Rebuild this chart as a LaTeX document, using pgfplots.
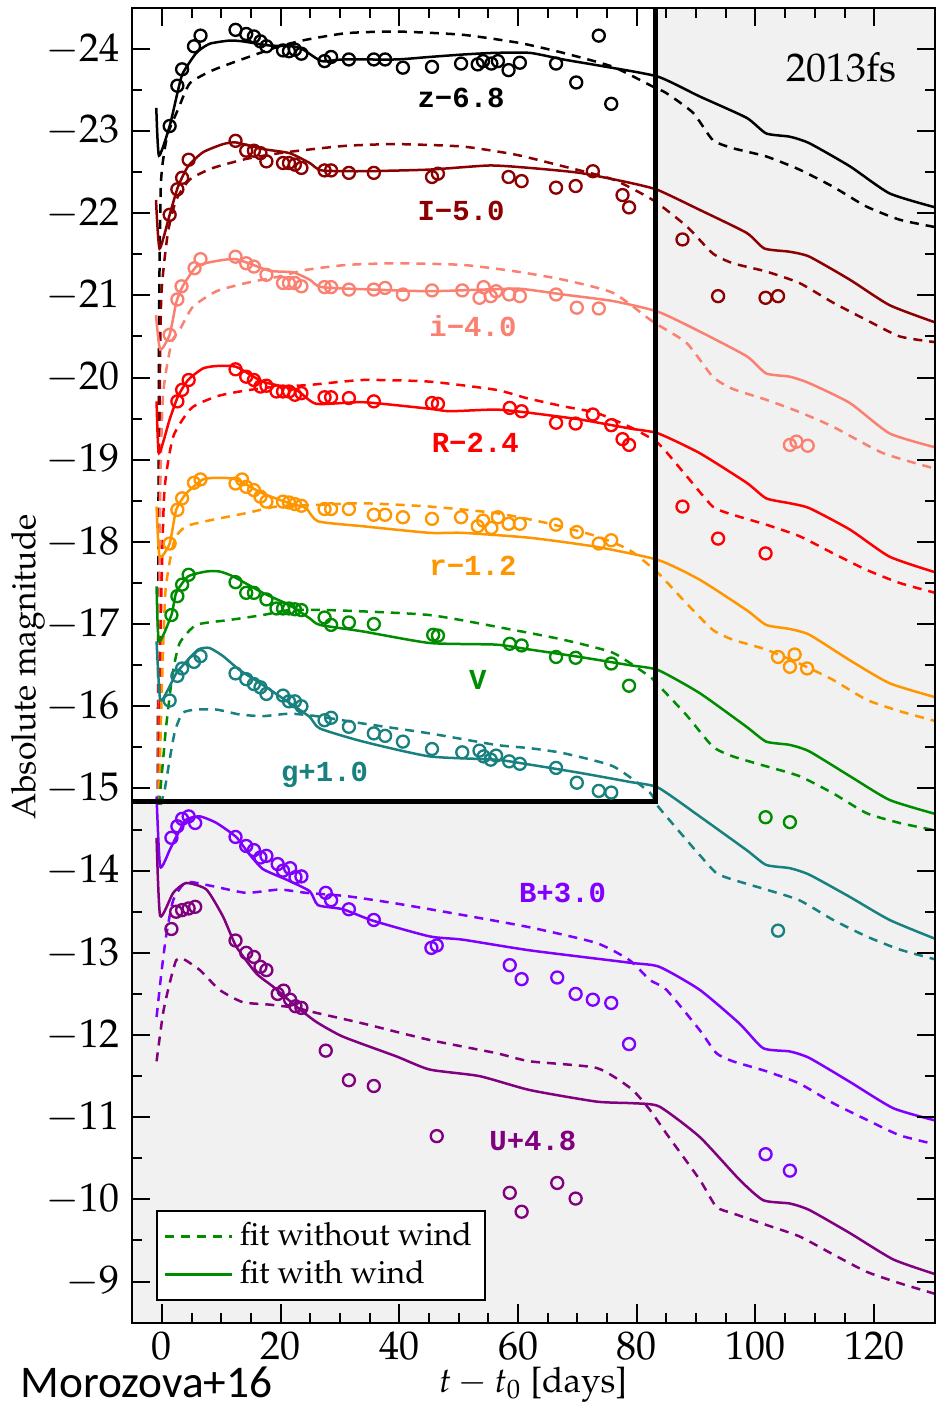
\documentclass[border=0pt]{standalone}
\usepackage[T1]{fontenc}
\usepackage{mathpazo}
\usepackage{fontspec}
\usepackage{pgfplots}
\pgfplotsset{compat=1.18}
\newfontfamily\monob{Liberation Mono}
\newfontfamily\carlito{Carlito}
\newcommand\pal{\fontencoding{T1}\fontfamily{ppl}\selectfont}
\definecolor{cz}{RGB}{0,0,0}
\definecolor{cI}{RGB}{139,0,0}
\definecolor{ci}{RGB}{250,128,114}
\definecolor{cR}{RGB}{255,0,0}
\definecolor{cr}{RGB}{255,150,0}
\definecolor{cV}{RGB}{0,140,0}
\definecolor{cg}{RGB}{25,128,128}
\definecolor{cB}{RGB}{127,0,255}
\definecolor{cU}{RGB}{128,0,128}
\definecolor{bggray}{RGB}{241,241,241}
\pgfplotsset{
 fitS/.style={#1, line width=0.75pt, smooth, tension=0.35, forget plot},
 fitD/.style={#1, line width=0.75pt, smooth, tension=0.35, dash pattern=on 2.7pt off 2.1pt, forget plot},
 obs/.style={#1, only marks, mark=o, mark size=1.8pt, mark options={solid, line width=0.7pt}, forget plot},
}
\begin{document}
\begin{tikzpicture}
\begin{axis}[
  scale only axis, width=241.1pt, height=394.5pt,
  xmin=-5.1, xmax=130.3, ymin=-24.5, ymax=-8.5, y dir=reverse,
  axis on top,
  axis background/.style={fill=bggray},
  xtick={0,20,...,120}, minor x tick num=3,
  ytick={-24,-23,...,-9}, minor y tick num=1,
  xtick pos=both, ytick pos=both,
  tick align=inside,
  major tick length=5.5pt, minor tick length=3pt,
  every tick/.style={black, line width=0.6pt},
  axis line style={line width=0.6pt},
  ticklabel style={font=\fontsize{12}{14}\selectfont},
  xticklabel style={inner sep=0pt, yshift=-2.5pt},
  legend style={at={(axis cs:-0.94,-8.76)}, anchor=south west, draw=black, fill=white, line width=0.6pt,
     font=\fontsize{9.6}{11.5}\pal, inner xsep=2pt, inner ysep=1.5pt, row sep=-1pt},
  legend cell align=left,
  legend image code/.code={\draw[#1] (0pt,0pt) -- (20pt,0pt);},
]
\fill[white] (axis cs:-6,-25) rectangle (axis cs:83.2,-14.84);

% ---------------- z ----------------
\addplot[fitD=cz] coordinates {(-0.7,-14.8)(-0.5,-20.5)(-0.2,-22.3)(0.3,-22.7)(1.0,-22.97)(2.7,-23.26)(4.7,-23.58)(8.6,-23.74)(14.2,-23.89)(19.8,-24.03)(24.3,-24.11)(31.1,-24.19)(39.5,-24.21)(50.7,-24.17)(60.3,-24.07)(67.6,-23.95)(76,-23.78)(82.7,-23.54)(85,-23.46)(89.5,-23.22)(92.8,-22.89)(96.2,-22.79)(101.8,-22.69)(107.4,-22.53)(113.1,-22.32)(118.7,-22.08)(124.3,-21.92)(130.3,-21.83)};
\addplot[fitS=cz] coordinates {(-0.95,-23.28)(-0.5,-22.7)(1.3,-23.06)(2.6,-23.46)(3.5,-23.70)(5.8,-23.95)(8.0,-24.06)(11.4,-24.10)(13.6,-24.09)(18.1,-24.04)(22.1,-24.03)(23.8,-23.99)(26.9,-23.85)(30.5,-23.87)(39.5,-23.87)(45,-23.90)(50.7,-23.93)(56,-23.95)(62,-23.95)(67.6,-23.87)(74.9,-23.78)(83.6,-23.66)(90.6,-23.42)(98.5,-23.16)(101.8,-22.97)(105.8,-22.93)(109.1,-22.85)(115.9,-22.57)(122.6,-22.24)(130.3,-22.07)};
\addplot[obs=cz] coordinates {(1.3,-23.06)(2.6,-23.55)(3.4,-23.75)(5.4,-24.03)(6.5,-24.16)(12.4,-24.23)(14.2,-24.18)(15.5,-24.15)(16.6,-24.09)(17.6,-24.03)(20.4,-23.98)(21.4,-23.97)(22.4,-23.99)(23.5,-23.94)(27.4,-23.85)(28.5,-23.9)(31.5,-23.87)(35.7,-23.87)(37.6,-23.87)(40.6,-23.77)(45.5,-23.78)(50.4,-23.82)(53.2,-23.81)(54.1,-23.85)(55.5,-23.82)(56.6,-23.85)(58.4,-23.74)(60.3,-23.83)(66.4,-23.82)(69.8,-23.59)(73.6,-24.16)(75.7,-23.33)};

% ---------------- I ----------------
\addplot[fitD=cI] coordinates {(-0.65,-14.8)(-0.4,-19.5)(-0.1,-21.0)(1.0,-21.76)(2.4,-22.16)(4.7,-22.41)(8.6,-22.55)(14.2,-22.66)(19.8,-22.73)(24.3,-22.77)(31.1,-22.82)(39.5,-22.84)(50.7,-22.81)(59.7,-22.71)(67.6,-22.57)(76,-22.41)(82.7,-22.16)(88.4,-21.84)(92.8,-21.51)(96.2,-21.39)(101.8,-21.29)(107.4,-21.15)(113.1,-20.91)(118.7,-20.70)(124.3,-20.50)(130.3,-20.43)};
\addplot[fitS=cI] coordinates {(-1,-22.16)(-0.4,-21.57)(1.3,-21.98)(2.7,-22.32)(4.4,-22.57)(6.9,-22.74)(10.3,-22.84)(12.5,-22.86)(17,-22.78)(21.5,-22.73)(24.9,-22.61)(26.9,-22.52)(33.9,-22.51)(45.1,-22.53)(55.2,-22.58)(62,-22.55)(70.4,-22.49)(78.8,-22.37)(83.6,-22.28)(90.6,-22.04)(98.5,-21.76)(101.5,-21.57)(105.8,-21.53)(109.1,-21.47)(115.9,-21.19)(122.6,-20.88)(130.3,-20.67)};
\addplot[obs=cI] coordinates {(1.3,-21.98)(2.6,-22.29)(3.4,-22.43)(4.5,-22.65)(12.4,-22.88)(14.2,-22.76)(15.5,-22.76)(16.6,-22.73)(17.6,-22.63)(20.4,-22.61)(21.4,-22.61)(22.4,-22.59)(23.5,-22.55)(27.4,-22.52)(28.5,-22.52)(31.5,-22.49)(35.7,-22.49)(45.5,-22.44)(46.5,-22.48)(58.4,-22.44)(60.6,-22.39)(66.4,-22.31)(69.7,-22.33)(72.6,-22.51)(77.6,-22.22)(78.7,-22.07)(87.7,-21.68)(93.7,-20.99)(101.7,-20.97)(103.8,-20.99)};

% ---------------- i ----------------
\addplot[fitD=ci] coordinates {(-0.6,-14.8)(-0.3,-18.5)(0.2,-19.8)(1.6,-20.42)(3.0,-20.58)(5.2,-20.86)(9.2,-21.05)(14.2,-21.15)(19.8,-21.23)(24.3,-21.31)(31.1,-21.37)(39.5,-21.39)(50.7,-21.37)(59.7,-21.29)(67.6,-21.19)(76,-21.03)(82.7,-20.68)(88.4,-20.42)(92.8,-20.01)(96.2,-19.86)(101.8,-19.73)(107.4,-19.58)(113.1,-19.40)(121.5,-19.08)(130.3,-18.89)};
\addplot[fitS=ci] coordinates {(-1,-20.76)(-0.3,-20.34)(1.3,-20.52)(2.4,-20.91)(3.5,-21.11)(5.8,-21.35)(8.6,-21.41)(12.5,-21.44)(18.1,-21.30)(22.1,-21.28)(24.9,-21.19)(26.9,-21.10)(35.6,-21.07)(45.1,-21.05)(54.1,-21.07)(60.3,-21.08)(67.6,-21.01)(76,-20.93)(83.6,-20.80)(90.6,-20.56)(98.5,-20.26)(101.8,-20.05)(105.8,-20.01)(109.1,-19.93)(115.9,-19.69)(122.6,-19.32)(130.3,-19.15)};
\addplot[obs=ci] coordinates {(1.3,-20.52)(2.6,-20.95)(3.3,-21.11)(5.5,-21.33)(6.5,-21.44)(12.4,-21.47)(14.2,-21.39)(15.5,-21.35)(17.6,-21.25)(20.4,-21.15)(21.4,-21.15)(22.4,-21.15)(23.5,-21.11)(27.4,-21.10)(28.5,-21.10)(31.5,-21.07)(35.7,-21.07)(37.6,-21.09)(40.6,-21.01)(45.5,-21.06)(50.6,-21.06)(53.5,-20.97)(54.2,-21.10)(55.4,-20.99)(56.3,-21.05)(58.5,-21.01)(60.3,-20.99)(66.4,-21.01)(69.9,-20.85)(73.6,-20.84)(105.8,-19.18)(106.9,-19.22)(108.8,-19.17)};

% ---------------- R ----------------
\addplot[fitD=cR] coordinates {(-0.55,-14.8)(-0.2,-17.0)(0.4,-18.6)(1.9,-19.28)(5,-19.63)(9.2,-19.77)(13.1,-19.83)(18.1,-19.88)(24.9,-19.91)(33.9,-19.97)(45.1,-19.95)(56.3,-19.85)(61.4,-19.75)(67.6,-19.65)(73.2,-19.57)(78.8,-19.40)(83.6,-19.20)(88.4,-18.80)(92.8,-18.43)(96.2,-18.33)(101.8,-18.21)(107.4,-18.07)(113.1,-17.86)(118.7,-17.66)(124.3,-17.50)(130.3,-17.38)};
\addplot[fitS=cR] coordinates {(-0.9,-19.71)(-0.5,-19.08)(1.3,-19.49)(2.7,-19.77)(4.4,-19.97)(6.9,-20.11)(9.2,-20.14)(12.5,-20.13)(17,-19.95)(22.6,-19.85)(26,-19.68)(33.9,-19.70)(45.1,-19.62)(48.5,-19.59)(56.3,-19.61)(62,-19.57)(70.4,-19.49)(78.8,-19.38)(83.6,-19.32)(90.6,-19.08)(98.5,-18.72)(101.8,-18.53)(105.8,-18.47)(109.1,-18.41)(115.9,-18.15)(122.6,-17.82)(130.3,-17.63)};
\addplot[obs=cR] coordinates {(2.6,-19.71)(3.4,-19.85)(4.5,-19.97)(12.4,-20.10)(14.2,-20.01)(15.5,-19.97)(16.6,-19.89)(17.6,-19.90)(19.3,-19.83)(20.4,-19.83)(21.4,-19.83)(22.4,-19.79)(23.5,-19.81)(27.4,-19.76)(28.5,-19.76)(31.5,-19.75)(35.7,-19.71)(45.5,-19.69)(46.5,-19.68)(58.6,-19.63)(60.6,-19.59)(66.4,-19.45)(69.7,-19.44)(72.6,-19.55)(75.7,-19.42)(77.6,-19.25)(78.7,-19.18)(87.7,-18.43)(93.7,-18.04)(101.7,-17.86)};

% ---------------- r ----------------
\addplot[fitD=cr] coordinates {(-0.5,-14.8)(-0.1,-16.0)(0.6,-17.4)(2.1,-18.02)(4.1,-18.19)(8.6,-18.27)(14.2,-18.35)(19.3,-18.43)(26,-18.45)(33.9,-18.47)(45.1,-18.43)(56.3,-18.35)(64.8,-18.23)(73.2,-18.07)(78.8,-17.90)(83.6,-17.62)(88.4,-17.25)(92.8,-16.93)(96.2,-16.81)(101.8,-16.69)(107.4,-16.52)(113.1,-16.32)(118.7,-16.08)(124.3,-15.94)(130.3,-15.82)};
\addplot[fitS=cr] coordinates {(-0.9,-18.43)(-0.4,-17.82)(1.3,-17.98)(2.4,-18.39)(4.1,-18.59)(6.9,-18.76)(9.7,-18.78)(12.5,-18.76)(17,-18.59)(21.5,-18.47)(24.3,-18.41)(26.3,-18.25)(33.9,-18.19)(45.1,-18.11)(50.7,-18.11)(62,-18.05)(73.2,-17.94)(83.6,-17.78)(90.6,-17.54)(98.5,-17.17)(101.8,-16.99)(105.8,-16.94)(109.1,-16.87)(115.9,-16.56)(122.6,-16.28)(130.3,-16.11)};
\addplot[obs=cr] coordinates {(1.3,-17.98)(2.6,-18.39)(3.4,-18.53)(5.4,-18.72)(6.5,-18.76)(12.4,-18.71)(13.5,-18.76)(14.2,-18.67)(15.5,-18.63)(16.6,-18.55)(17.6,-18.49)(20.4,-18.49)(21.4,-18.48)(22.4,-18.46)(23.5,-18.44)(27.4,-18.40)(28.5,-18.40)(31.5,-18.40)(35.7,-18.33)(37.6,-18.33)(40.6,-18.30)(45.5,-18.28)(50.4,-18.30)(53.2,-18.19)(54.1,-18.26)(55.5,-18.17)(56.6,-18.30)(58.4,-18.22)(60.3,-18.22)(66.4,-18.21)(69.9,-18.12)(73.6,-17.98)(75.7,-18.02)(103.8,-16.60)(106.6,-16.63)(105.8,-16.48)(108.7,-16.46)};

% ---------------- V ----------------
\addplot[fitD=cV] coordinates {(-0.5,-14.8)(0.2,-15.35)(0.7,-15.75)(1.8,-16.4)(3.0,-16.77)(5.8,-16.99)(11.4,-17.05)(17,-17.11)(21.5,-17.17)(28.3,-17.17)(45.1,-17.11)(59.1,-16.93)(67.6,-16.81)(76,-16.65)(82.2,-16.36)(83.6,-16.26)(88.4,-15.89)(92.8,-15.51)(96.2,-15.39)(101.8,-15.27)(107.4,-15.15)(113.1,-14.94)(118.7,-14.70)(124.3,-14.58)(130.3,-14.49)};
\addplot[fitS=cV] coordinates {(-0.9,-17.46)(-0.5,-16.79)(1.6,-17.11)(2.4,-17.38)(4.4,-17.58)(7.5,-17.64)(9.7,-17.64)(12,-17.58)(17,-17.38)(21.5,-17.23)(24.9,-17.07)(26.6,-16.99)(33.9,-16.91)(45.1,-16.77)(56.3,-16.75)(62,-16.69)(70.4,-16.60)(78.8,-16.50)(83.6,-16.44)(90.6,-16.16)(98.5,-15.75)(101.8,-15.57)(105.8,-15.53)(109.1,-15.45)(115.9,-15.15)(122.6,-14.86)(130.3,-14.69)};
\addplot[obs=cV] coordinates {(1.6,-17.11)(2.6,-17.34)(3.4,-17.48)(4.5,-17.60)(12.4,-17.51)(14.2,-17.38)(15.5,-17.38)(17.6,-17.30)(19.3,-17.19)(20.4,-17.19)(21.4,-17.19)(22.4,-17.18)(23.5,-17.17)(27.4,-17.08)(28.5,-16.99)(31.5,-17.02)(35.7,-17.00)(45.7,-16.87)(46.5,-16.86)(58.6,-16.76)(60.6,-16.74)(66.4,-16.60)(69.7,-16.59)(75.7,-16.52)(78.7,-16.25)(101.7,-14.65)(105.8,-14.59)};

% ---------------- g ----------------
\addplot[fitD=cg] coordinates {(-0.2,-14.8)(0.5,-15.0)(1.3,-15.35)(2.2,-15.7)(3.5,-15.92)(5.8,-15.96)(9.2,-15.96)(13.1,-15.90)(17,-15.88)(21.5,-15.91)(26,-15.88)(33.9,-15.79)(45.1,-15.67)(56.3,-15.53)(62,-15.49)(67.6,-15.43)(76,-15.27)(82.2,-14.95)(83.6,-14.78)(88.9,-14.33)(90.6,-14.19)(93.4,-13.97)(96.2,-13.89)(101.8,-13.77)(107.4,-13.64)(113.1,-13.40)(118.7,-13.20)(124.3,-13.04)(130.3,-12.92)};
\addplot[fitS=cg] coordinates {(-0.9,-16.79)(-0.3,-16.08)(1.0,-16.20)(2.4,-16.40)(3.8,-16.52)(6.1,-16.69)(8,-16.71)(10.3,-16.61)(13.1,-16.44)(17,-16.26)(21.5,-16.04)(24.9,-15.87)(26.6,-15.73)(33.9,-15.57)(45.1,-15.39)(56.3,-15.35)(62,-15.29)(70.4,-15.19)(78.8,-15.08)(83.6,-15.01)(90.6,-14.66)(98.5,-14.25)(101.8,-14.07)(105.8,-14.03)(109.1,-13.95)(115.9,-13.68)(122.6,-13.40)(130.3,-13.17)};
\addplot[obs=cg] coordinates {(1.3,-16.07)(2.6,-16.37)(3.4,-16.46)(5.4,-16.54)(6.5,-16.61)(12.4,-16.40)(14.2,-16.33)(15.5,-16.27)(16.6,-16.23)(17.6,-16.15)(20.4,-16.13)(21.4,-16.06)(22.4,-16.06)(23.5,-16.00)(27.4,-15.83)(28.5,-15.86)(31.5,-15.75)(35.7,-15.67)(37.6,-15.64)(40.6,-15.57)(45.5,-15.48)(50.6,-15.44)(53.5,-15.46)(54.2,-15.39)(55.4,-15.35)(56.3,-15.40)(58.5,-15.33)(60.3,-15.30)(66.4,-15.25)(69.9,-15.07)(73.6,-14.97)(75.7,-14.95)(103.8,-13.27)};

% ---------------- B ----------------
\addplot[fitD=cB] coordinates {(-0.9,-12.22)(-0.1,-12.75)(0.7,-13.20)(1.9,-13.64)(4.1,-13.86)(8.6,-13.81)(14.2,-13.73)(19.8,-13.77)(24.3,-13.73)(31.1,-13.69)(39.5,-13.60)(50.7,-13.46)(62,-13.31)(73.2,-13.12)(78.8,-12.91)(82.2,-12.67)(85,-12.55)(90.6,-12.06)(93.4,-11.78)(96.2,-11.68)(101.8,-11.56)(107.4,-11.41)(113.1,-11.17)(118.7,-10.97)(124.3,-10.78)(130.3,-10.67)};
\addplot[fitS=cB] coordinates {(-0.9,-14.9)(-0.3,-14.05)(1.3,-14.25)(2.4,-14.41)(4.1,-14.62)(6.4,-14.66)(9.2,-14.58)(12.5,-14.41)(14.5,-14.22)(17,-14.02)(21,-13.89)(24.9,-13.75)(26.3,-13.58)(30.5,-13.53)(35.6,-13.39)(45.1,-13.20)(50.7,-13.16)(62,-13.03)(78.8,-12.88)(83.8,-12.83)(90.6,-12.55)(97.3,-12.14)(101.3,-11.84)(105.8,-11.80)(109.1,-11.72)(115.9,-11.43)(123.2,-11.11)(130.3,-10.96)};
\addplot[obs=cB] coordinates {(1.6,-14.40)(2.6,-14.54)(3.4,-14.63)(4.5,-14.66)(5.6,-14.58)(12.4,-14.41)(14.2,-14.30)(15.5,-14.25)(16.6,-14.16)(17.6,-14.18)(19.5,-14.08)(20.4,-14.00)(21.6,-14.03)(22.5,-13.92)(23.5,-13.93)(27.6,-13.73)(28.5,-13.64)(31.5,-13.53)(35.7,-13.40)(45.4,-13.06)(46.3,-13.09)(58.6,-12.85)(60.6,-12.68)(66.6,-12.70)(69.7,-12.50)(72.6,-12.43)(75.7,-12.39)(78.7,-11.89)(101.7,-10.55)(105.8,-10.35)};

% ---------------- U ----------------
\addplot[fitD=cU] coordinates {(-0.9,-11.68)(0.2,-12.27)(1.3,-12.63)(2.4,-12.91)(3.5,-12.93)(6.4,-12.79)(9.7,-12.55)(13.6,-12.40)(18.1,-12.37)(22.6,-12.33)(26,-12.27)(33.9,-12.14)(45.1,-11.94)(56.3,-11.78)(62,-11.68)(73.2,-11.60)(79,-11.35)(82.2,-11.09)(85,-10.80)(90.6,-10.24)(93.4,-9.91)(96.2,-9.83)(101.8,-9.69)(107.4,-9.55)(113.1,-9.33)(118.7,-9.12)(124.3,-8.98)(130.3,-8.85)};
\addplot[fitS=cU] coordinates {(-0.9,-14.4)(-0.3,-13.45)(1.9,-13.73)(4.1,-13.85)(7.5,-13.77)(10.3,-13.44)(12.5,-13.08)(15.9,-12.75)(18.7,-12.59)(22.6,-12.35)(26,-12.16)(30.5,-11.98)(39.5,-11.74)(45.1,-11.58)(53.5,-11.50)(62,-11.33)(73.2,-11.19)(79.4,-11.17)(83.8,-11.13)(90.6,-10.76)(97.3,-10.24)(101.3,-9.99)(105.8,-9.95)(109.1,-9.87)(115.9,-9.59)(123.2,-9.27)(130.3,-9.09)};
\addplot[obs=cU] coordinates {(1.6,-13.29)(2.4,-13.50)(3.4,-13.52)(4.5,-13.54)(5.6,-13.56)(12.4,-13.15)(14.2,-13.00)(15.5,-12.95)(16.6,-12.83)(17.6,-12.79)(19.5,-12.50)(20.5,-12.54)(21.6,-12.43)(22.5,-12.35)(23.5,-12.33)(27.6,-11.81)(31.5,-11.45)(35.7,-11.38)(46.3,-10.77)(58.6,-10.08)(60.6,-9.85)(66.6,-10.20)(69.7,-10.01)};

% thick box border
\draw[black, line width=1.5pt] (axis cs:83.2,-25) -- (axis cs:83.2,-14.84) -- (axis cs:-6,-14.84);

% band labels
\begin{scope}[every node/.style={anchor=base, inner sep=0pt, font=\monob\bfseries\fontsize{8.7}{10}\selectfont}]
\node[text=black] at (axis cs:50.4,-23.29) {z−6.8};
\node[text=cI] at (axis cs:50.4,-21.91) {I−5.0};
\node[text=ci] at (axis cs:52.4,-20.50) {i−4.0};
\node[text=cR] at (axis cs:52.8,-19.09) {R−2.4};
\node[text=cr] at (axis cs:52.4,-17.59) {r−1.2};
\node[text=cV] at (axis cs:53.2,-16.20) {V};
\node[text=cg] at (axis cs:27.4,-15.08) {g+1.0};
\node[text=cB] at (axis cs:67.5,-13.61) {B+3.0};
\node[text=cU] at (axis cs:62.5,-10.60) {U+4.8};
\end{scope}
\node[anchor=base, inner sep=0pt, font=\fontsize{12}{14}\pal] at (axis cs:114.5,-23.60) {2013fs};

\addlegendimage{cV, line width=0.75pt, dash pattern=on 2.7pt off 2.1pt}
\addlegendentry{fit without wind}
\addlegendimage{cV, line width=0.75pt}
\addlegendentry{fit with wind}
\end{axis}
\node[rotate=90, inner sep=0pt, font=\fontsize{10.1}{12}\pal] at (-31.1pt,196.7pt) {Absolute magnitude};
\node[anchor=base, inner sep=0pt, font=\fontsize{10.5}{12}\pal] at (120.4pt,-20.9pt) {$t - t_0$ [days]};
\node[anchor=base west, inner sep=0pt, font=\fontsize{13.6}{16}\carlito] at (-33.5pt,-22.3pt) {Morozova+16};
\pgfresetboundingbox
\useasboundingbox (-39.5pt,-24.1pt) rectangle (241.6pt,396.8pt);
\end{tikzpicture}
\end{document}
